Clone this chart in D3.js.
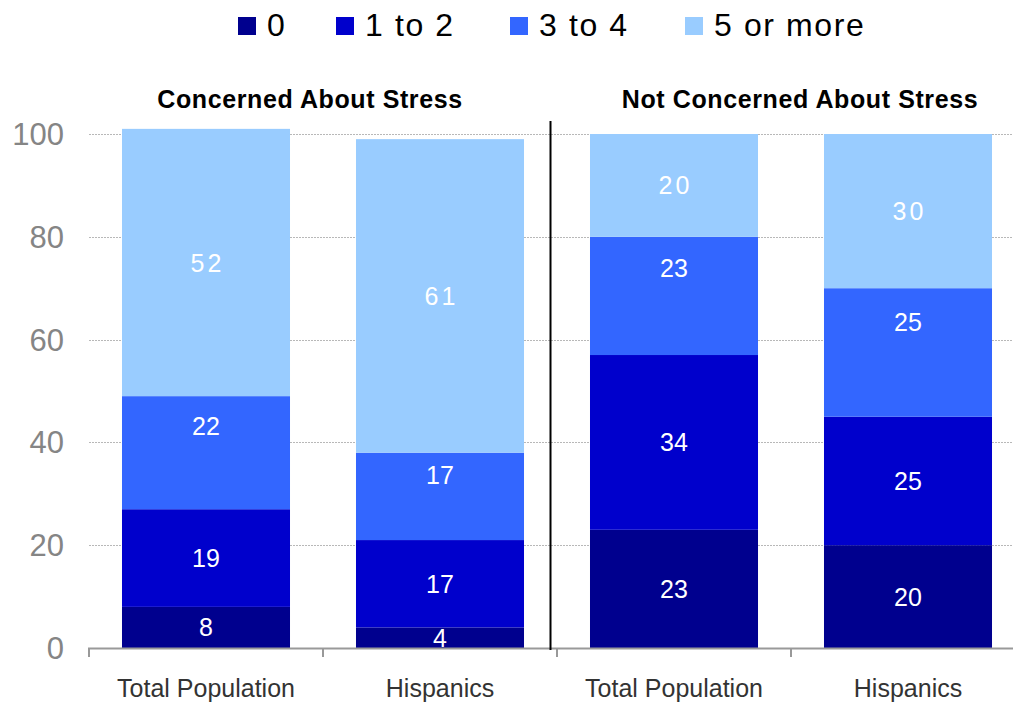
<!DOCTYPE html>
<html>
<head>
<meta charset="utf-8">
<script src="https://cdn.jsdelivr.net/npm/d3@7"></script>
<style>
  html, body { margin: 0; padding: 0; background: #fff; }
  svg { display: block; font-family: "Liberation Sans", Arial, sans-serif; }
</style>
</head>
<body>
<svg id="chart" width="1013" height="706"></svg>
<script>
// Bars, left to right
const categories = ["Total Population", "Hispanics", "Total Population", "Hispanics"];
const barKeys = ["c-total", "c-hisp", "n-total", "n-hisp"];
const groupTitles = ["Concerned About Stress", "Not Concerned About Stress"];

// Series (bottom to top in each stack)
const seriesNames = ["0", "1 to 2", "3 to 4", "5 or more"];
const seriesColors = ["#00008E", "#0000CC", "#3366FF", "#99CCFF"];
const valuesZero      = [8, 4, 23, 20];
const valuesOneTwo    = [19, 17, 34, 25];
const valuesThreeFour = [22, 17, 23, 25];
const valuesFivePlus  = [52, 61, 20, 30];
const seriesValues = [valuesZero, valuesOneTwo, valuesThreeFour, valuesFivePlus];

// Where each series' value label sits inside its segment (0 = bottom, 1 = top)
const labelAnchor = [0.5, 0.5, 0.74, 0.5];

const yTicks = [0, 20, 40, 60, 80, 100];

const svg = d3.select("#chart");

const x = d3.scaleBand()
  .domain(barKeys)
  .range([89, 1025])
  .paddingInner(0.282)
  .paddingOuter(0.141);

const y = d3.scaleLinear().domain([0, 100]).range([648, 134]);

// Gridlines
svg.append("g")
  .selectAll("line")
  .data(yTicks.filter(d => d > 0))
  .join("line")
  .attr("x1", 89).attr("x2", 1013)
  .attr("y1", d => Math.round(y(d)) + 0.5).attr("y2", d => Math.round(y(d)) + 0.5)
  .attr("stroke", "#b8b8b8")
  .attr("stroke-width", 1)
  .attr("stroke-dasharray", "2,1");

// Y tick labels
svg.append("g")
  .selectAll("text")
  .data(yTicks)
  .join("text")
  .attr("x", 64)
  .attr("y", d => y(d) + 11)
  .attr("text-anchor", "end")
  .attr("font-size", 31)
  .attr("fill", "#858585")
  .text(d => d);

// Stacked data
const rows = barKeys.map((k, i) => {
  const r = { key: k };
  seriesNames.forEach((s, j) => { r[s] = seriesValues[j][i]; });
  return r;
});
const stacked = d3.stack().keys(seriesNames)(rows);

const layers = svg.append("g")
  .selectAll("g")
  .data(stacked)
  .join("g")
  .attr("fill", (d, i) => seriesColors[i]);

layers.selectAll("rect")
  .data(d => d)
  .join("rect")
  .attr("x", d => x(d.data.key))
  .attr("width", x.bandwidth())
  .attr("y", d => y(d[1]))
  .attr("height", d => y(d[0]) - y(d[1]));

// Value labels
layers.each(function(layer, i) {
  const f = labelAnchor[i];
  d3.select(this).selectAll("text")
    .data(layer)
    .join("text")
    .attr("x", d => x(d.data.key) + x.bandwidth() / 2 + (i === 3 ? 1.5 : 0))
    .attr("y", d => y(d[0] + (d[1] - d[0]) * f) + 9)
    .attr("text-anchor", "middle")
    .attr("font-size", 25)
    .attr("fill", "#ffffff")
    .attr("letter-spacing", i === 3 ? 3 : 0)
    .text(d => d.data[layer.key]);
});

// X axis
const axisG = svg.append("g");
axisG.append("line")
  .attr("x1", 88).attr("x2", 1013)
  .attr("y1", 648.5).attr("y2", 648.5)
  .attr("stroke", "#999").attr("stroke-width", 2);
const tickXs = [0, 1, 2, 3, 4].map(i => 89 + i * x.step());
axisG.selectAll("line.tick")
  .data(tickXs)
  .join("line")
  .attr("class", "tick")
  .attr("x1", d => d).attr("x2", d => d)
  .attr("y1", 648).attr("y2", 657)
  .attr("stroke", "#999").attr("stroke-width", 2);

axisG.selectAll("text")
  .data(barKeys)
  .join("text")
  .attr("x", d => x(d) + x.bandwidth() / 2)
  .attr("y", 697)
  .attr("text-anchor", "middle")
  .attr("font-size", 25)
  .attr("fill", "#333")
  .text((d, i) => categories[i]);

// Divider between groups
svg.append("line")
  .attr("x1", 550.5).attr("x2", 550.5)
  .attr("y1", 121).attr("y2", 650)
  .attr("stroke", "#000").attr("stroke-width", 2);

// Group titles
svg.append("g")
  .selectAll("text")
  .data(groupTitles)
  .join("text")
  .attr("x", (d, i) => i === 0 ? 310 : 800)
  .attr("y", 108)
  .attr("text-anchor", "middle")
  .attr("font-size", 25)
  .attr("font-weight", "bold")
  .attr("letter-spacing", 0.6)
  .attr("fill", "#000")
  .text(d => d);

// Legend
const legendX = [238, 336, 510, 685];
const legend = svg.append("g")
  .selectAll("g")
  .data(seriesNames)
  .join("g")
  .attr("transform", (d, i) => `translate(${legendX[i]},0)`);
legend.append("rect")
  .attr("x", 0).attr("y", 17)
  .attr("width", 18).attr("height", 18)
  .attr("fill", (d, i) => seriesColors[i]);
legend.append("text")
  .attr("x", 29).attr("y", 36)
  .attr("font-size", 32)
  .attr("letter-spacing", 1.6)
  .attr("fill", "#000")
  .text(d => d);
</script>
</body>
</html>
